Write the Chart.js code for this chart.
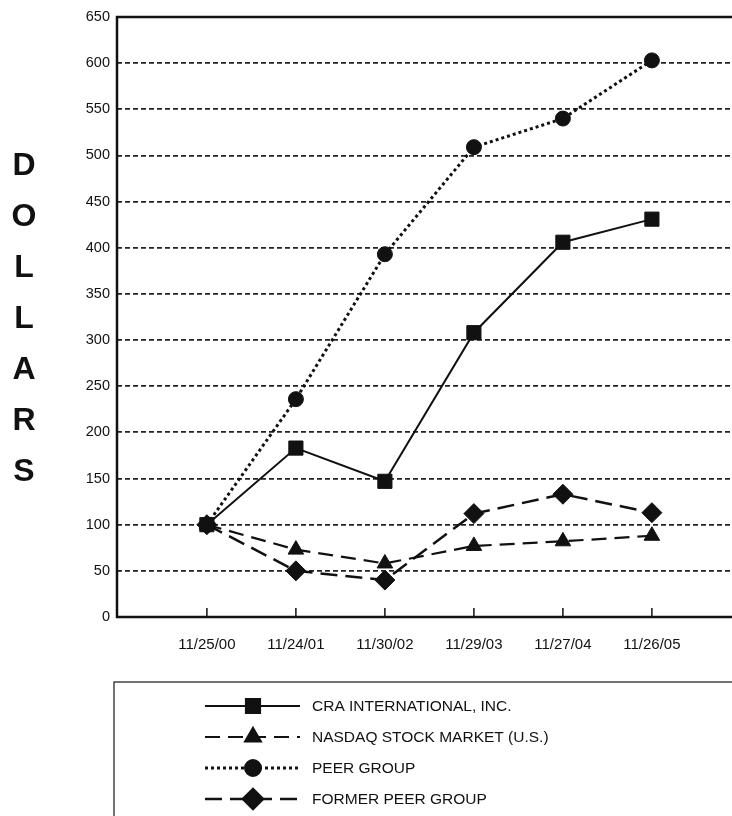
<!DOCTYPE html>
<html>
<head>
<meta charset="utf-8">
<script src="https://cdn.jsdelivr.net/npm/chart.js@4/dist/chart.umd.min.js"></script>
<style>
  html, body { margin: 0; padding: 0; background: #fff; overflow: hidden; }
  #wrap { width: 732px; height: 816px; position: relative; }
</style>
</head>
<body>
<div id="wrap"><canvas id="chart"></canvas></div>
<script>
// values
const dates = ['11/25/00', '11/24/01', '11/30/02', '11/29/03', '11/27/04', '11/26/05'];
const craIntl = [100, 183, 147, 308, 406, 431];
const nasdaq = [100, 73, 58, 77, 82, 88];
const peerGroup = [100, 236, 393, 509, 540, 603];
const formerPeer = [100, 50, 40, 112, 133, 113];
const yTitle = 'DOLLARS';

const FONT = '"Liberation Sans", Arial, Helvetica, sans-serif';
const INK = '#111';

const pts = arr => arr.map((v, i) => ({ x: i, y: v }));

// plot frame, inner x ticks, vertical axis title and the boxed legend
const extras = {
    id: 'extras',
    afterDraw(chart) {
        const ctx = chart.ctx;
        const a = chart.chartArea;
        const xs = chart.scales.x;
        ctx.save();

        ctx.strokeStyle = INK;
        ctx.lineWidth = 2.5;
        ctx.setLineDash([]);
        ctx.strokeRect(a.left, a.top, a.right - a.left + 20, a.bottom - a.top);

        ctx.lineWidth = 1.5;
        dates.forEach((_, i) => {
            const x = xs.getPixelForValue(i);
            ctx.beginPath();
            ctx.moveTo(x, a.bottom - 9);
            ctx.lineTo(x, a.bottom);
            ctx.stroke();
        });

        ctx.fillStyle = INK;
        ctx.font = 'bold 32px ' + FONT;
        ctx.textAlign = 'center';
        ctx.textBaseline = 'middle';
        yTitle.split('').forEach((ch, i) => {
            ctx.fillText(ch, 24, 166 + i * 51);
        });

        // legend
        ctx.lineWidth = 1.5;
        ctx.strokeStyle = '#444';
        ctx.strokeRect(114, 682, 640, 160);
        ctx.font = '15.5px ' + FONT;
        ctx.textAlign = 'left';
        chart.data.datasets.forEach((ds, i) => {
            const y = 706 + i * 31;
            ctx.strokeStyle = INK;
            ctx.lineWidth = ds.borderWidth;
            ctx.setLineDash(ds.borderDash || []);
            ctx.beginPath();
            ctx.moveTo(205, y);
            ctx.lineTo(300, y);
            ctx.stroke();
            ctx.setLineDash([]);
            ctx.fillStyle = INK;
            Chart.helpers.drawPoint(ctx, {
                pointStyle: ds.pointStyle,
                radius: ds.pointRadius,
                borderWidth: 1
            }, 253, y);
            ctx.fillStyle = INK;
            ctx.fillText(ds.label, 312, y + 1);
        });
        ctx.restore();
    }
};

const common = {
    borderColor: INK,
    backgroundColor: INK,
    pointBackgroundColor: INK,
    pointBorderColor: INK,
    pointBorderWidth: 1,
    fill: false,
    tension: 0
};

new Chart(document.getElementById('chart'), {
    type: 'line',
    data: {
        datasets: [
            { ...common, label: 'CRA INTERNATIONAL, INC.', data: pts(craIntl),
              borderWidth: 2, pointStyle: 'rect', pointRadius: 10 },
            { ...common, label: 'NASDAQ STOCK MARKET (U.S.)', data: pts(nasdaq),
              borderWidth: 2.2, borderDash: [15, 8], pointStyle: 'triangle', pointRadius: 9 },
            { ...common, label: 'PEER GROUP', data: pts(peerGroup),
              borderWidth: 3, borderDash: [3, 3], pointStyle: 'circle', pointRadius: 7.5 },
            { ...common, label: 'FORMER PEER GROUP', data: pts(formerPeer),
              borderWidth: 2.5, borderDash: [17, 8], pointStyle: 'rectRot', pointRadius: 10 }
        ]
    },
    options: {
        responsive: true,
        maintainAspectRatio: false,
        animation: false,
        layout: { autoPadding: false, padding: { top: 17, right: 0, bottom: 159, left: 0 } },
        plugins: { legend: { display: false }, tooltip: { enabled: false } },
        scales: {
            x: {
                type: 'linear',
                min: -1.01,
                max: 5.9,
                afterFit: s => { s.height = 40; s.paddingLeft = 0; s.paddingRight = 0; },
                afterBuildTicks: s => { s.ticks = dates.map((_, i) => ({ value: i })); },
                ticks: {
                    stepSize: 1,
                    color: INK,
                    font: { family: FONT, size: 15 },
                    padding: 11,
                    maxRotation: 0,
                    callback: v => dates[v] || ''
                },
                grid: { display: false },
                border: { display: false }
            },
            y: {
                min: 0,
                max: 650,
                afterFit: s => { s.width = 117; },
                ticks: {
                    stepSize: 50,
                    color: INK,
                    font: { family: FONT, size: 14.5 },
                    padding: 7
                },
                grid: {
                    drawTicks: false,
                    color: c => (c.tick && (c.tick.value === 0 || c.tick.value === 650)) ? 'rgba(0,0,0,0)' : '#222',
                    lineWidth: 1.8
                },
                border: { display: false, dash: [5, 3] }
            }
        }
    },
    plugins: [extras]
});
</script>
</body>
</html>
